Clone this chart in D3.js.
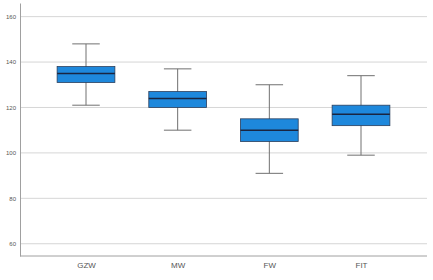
<!DOCTYPE html>
<html>
<head>
<meta charset="utf-8">
<script src="https://cdn.jsdelivr.net/npm/d3@7"></script>
<style>
  body { margin: 0; background: #fff; }
  svg { display: block; font-family: "Liberation Sans", Arial, sans-serif; }
</style>
</head>
<body>
<svg id="chart"></svg>
<script>
// box plot values
const groups = ['GZW', 'MW', 'FW', 'FIT'];
const whiskerLow = [121, 110, 91, 99];
const q1 = [131, 120, 105, 112];
const median = [135, 124, 110, 117];
const q3 = [138, 127, 115, 121];
const whiskerHigh = [148, 137, 130, 134];
const yTicks = [60, 80, 100, 120, 140, 160];

const margin = {top: 3, bottom: 24, left: 20, right: 6};
const width = 433 - margin.left - margin.right;
const height = 280 - margin.top - margin.bottom;

const svg = d3.select('#chart')
.attr('width', width + margin.left + margin.right)
.attr('height', height + margin.top + margin.bottom)
.append('g')
.attr('transform', `translate(${margin.left}, ${margin.top})`);

const x = d3.scalePoint()
.domain(groups)
.range([0, width])
.padding(0.72);

const step = x.step();

const y = d3.scaleLinear()
.domain([54.6, 166])
.range([height, 0]);

// grid lines
svg.selectAll('.grid')
.data(yTicks)
.enter()
.append('line')
.attr('x1', 0)
.attr('x2', width)
.attr('y1', d => y(d))
.attr('y2', d => y(d))
.attr('stroke', '#d6d6d6')
.attr('stroke-width', 1);

const yAxis = svg.append('g')
.call(d3.axisLeft(y).tickValues(yTicks).tickSize(0).tickPadding(4));
yAxis.select('.domain').attr('stroke', '#a0a0a0');
yAxis.selectAll('text')
.attr('fill', '#555')
.style('font-size', '6px');

const xAxis = svg.append('g')
.attr('transform', `translate(0, ${height})`)
.call(d3.axisBottom(x).tickSize(0).tickPadding(6));
xAxis.select('.domain').attr('stroke', '#a0a0a0').attr('d', `M0,0H${width}`);
xAxis.selectAll('text')
.attr('fill', '#555')
.style('font-size', '8px');

const rows = groups.map((g, i) => ({
  g, lo: whiskerLow[i], q1: q1[i], med: median[i], q3: q3[i], hi: whiskerHigh[i]
}));

const boxW = step * 0.63;
const capW = step * 0.3;

const box = svg.selectAll('.box')
.data(rows)
.enter()
.append('g')
.attr('transform', d => `translate(${x(d.g)}, 0)`);

box.append('line')
.attr('x1', 0).attr('x2', 0)
.attr('y1', d => y(d.hi))
.attr('y2', d => y(d.lo))
.attr('stroke', '#707070')
.attr('stroke-width', 1);

box.append('line')
.attr('x1', -capW / 2).attr('x2', capW / 2)
.attr('y1', d => y(d.hi)).attr('y2', d => y(d.hi))
.attr('stroke', '#707070');

box.append('line')
.attr('x1', -capW / 2).attr('x2', capW / 2)
.attr('y1', d => y(d.lo)).attr('y2', d => y(d.lo))
.attr('stroke', '#707070');

box.append('rect')
.attr('x', -boxW / 2)
.attr('width', boxW)
.attr('y', d => y(d.q3))
.attr('height', d => y(d.q1) - y(d.q3))
.attr('fill', '#1e88dc')
.attr('stroke', '#2b3f5c')
.attr('stroke-width', 0.8);

box.append('line')
.attr('x1', -boxW / 2).attr('x2', boxW / 2)
.attr('y1', d => y(d.med)).attr('y2', d => y(d.med))
.attr('stroke', '#1a2540')
.attr('stroke-width', 1.5);
</script>
</body>
</html>
